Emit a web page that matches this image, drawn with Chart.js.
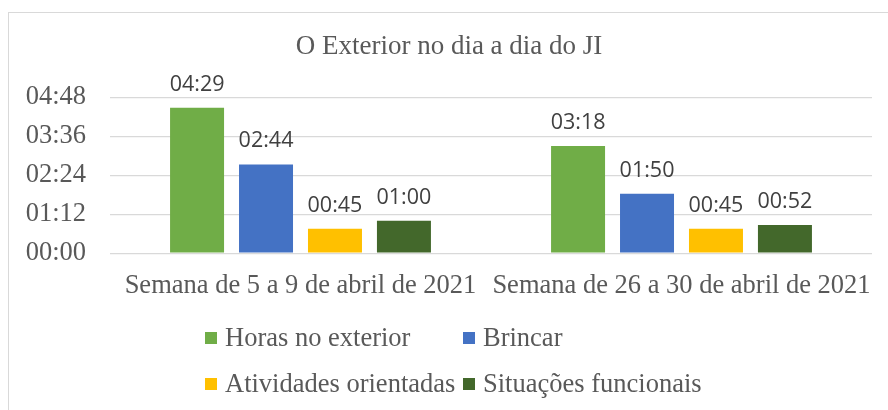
<!DOCTYPE html>
<html lang="pt">
<head>
<meta charset="UTF-8">
<title>O Exterior no dia a dia do JI</title>
<script src="https://cdn.jsdelivr.net/npm/chart.js"></script>
<style>
    html, body { margin: 0; padding: 0; background: #fff; }
    .chart-box { position: relative; width: 888px; height: 410px; overflow: hidden; }
    .chart-frame { position: absolute; left: 8px; top: 12px; width: 900px; height: 420px; border: 1.5px solid #d9d9d9; box-sizing: border-box; }
    #exteriorChart { position: absolute; left: 0; top: 0; }
</style>
</head>
<body>
<div class="chart-box">
    <div class="chart-frame"></div>
    <canvas id="exteriorChart" width="888" height="410"></canvas>
</div>
<script>
// categorias (semanas)
const weeks = ['Semana de 5 a 9 de abril de 2021', 'Semana de 26 a 30 de abril de 2021'];
const seriesNames = ['Horas no exterior', 'Brincar', 'Atividades orientadas', 'Situações funcionais'];
const seriesColors = ['#70ad47', '#4472c4', '#ffc000', '#43682b'];

// valores em minutos
const horasExterior = [269, 198];
const brincar = [164, 110];
const atividadesOrientadas = [45, 45];
const situacoesFuncionais = [60, 52];

// eixo Y: 00:00, 01:12, 02:24, 03:36, 04:48
const yTicks = [0, 72, 144, 216, 288];

const SERIF = '"Liberation Serif", "Times New Roman", serif';
const SANS = '"Open Sans", "Liberation Sans", sans-serif';

function formatTime(minutes) {
    const h = Math.floor(minutes / 60);
    const m = Math.round(minutes % 60);
    return String(h).padStart(2, '0') + ':' + String(m).padStart(2, '0');
}

// rótulos de valor por cima das barras
const valueLabels = {
    id: 'valueLabels',
    afterDatasetsDraw(chart) {
        const ctx = chart.ctx;
        ctx.save();
        ctx.font = '21.5px ' + SANS;
        ctx.fillStyle = '#404040';
        ctx.textAlign = 'center';
        ctx.textBaseline = 'alphabetic';
        chart.data.datasets.forEach((ds, i) => {
            chart.getDatasetMeta(i).data.forEach((bar, j) => {
                ctx.fillText(formatTime(ds.data[j]), bar.x, bar.y - 17);
            });
        });
        ctx.restore();
    }
};

// legenda em duas colunas
const gridLegend = {
    id: 'gridLegend',
    afterDraw(chart) {
        const ctx = chart.ctx;
        const cols = [205, 463];
        const rows = [338, 384];
        ctx.save();
        ctx.font = '26.5px ' + SERIF;
        ctx.textBaseline = 'middle';
        ctx.textAlign = 'left';
        chart.data.datasets.forEach((ds, i) => {
            const x = cols[i % 2];
            const y = rows[Math.floor(i / 2)];
            ctx.fillStyle = ds.backgroundColor;
            ctx.fillRect(x, y - 6, 12, 12);
            ctx.fillStyle = '#595959';
            ctx.fillText(ds.label, x + 20, y + 1);
        });
        ctx.restore();
    }
};

const chartPage = {
    chart: null,

    init() {
        const ctx = document.getElementById('exteriorChart').getContext('2d');
        const values = [horasExterior, brincar, atividadesOrientadas, situacoesFuncionais];

        this.chart = new Chart(ctx, {
            type: 'bar',
            data: {
                labels: weeks,
                datasets: seriesNames.map((name, i) => ({
                    label: name,
                    data: values[i],
                    backgroundColor: seriesColors[i],
                    categoryPercentage: 0.724,
                    barPercentage: 0.783
                }))
            },
            options: {
                responsive: false,
                animation: false,
                layout: {
                    padding: { top: 13, left: 26, right: 16, bottom: 91 }
                },
                plugins: {
                    legend: { display: false },
                    tooltip: { enabled: false },
                    title: {
                        display: true,
                        text: 'O Exterior no dia a dia do JI',
                        color: '#595959',
                        font: { family: SERIF, size: 27, weight: 'normal' },
                        padding: { top: 18, bottom: 34 }
                    }
                },
                scales: {
                    x: {
                        grid: { display: false, drawTicks: false },
                        border: { display: false },
                        // os rótulos quase se tocam, não deixar o Chart.js encolher a área
                        afterFit(scale) {
                            scale.paddingLeft = 0;
                            scale.paddingRight = 0;
                        },
                        ticks: {
                            color: '#595959',
                            font: { family: SERIF, size: 26.5 },
                            padding: 17,
                            maxRotation: 0,
                            autoSkip: false
                        }
                    },
                    y: {
                        min: 0,
                        max: 288,
                        grid: { color: '#d9d9d9', lineWidth: 1.3, drawTicks: false },
                        border: { display: false },
                        afterBuildTicks(axis) {
                            axis.ticks = yTicks.map(v => ({ value: v }));
                        },
                        afterFit(scale) {
                            scale.width = 84;
                        },
                        ticks: {
                            color: '#595959',
                            font: { family: SERIF, size: 26.5 },
                            padding: 24,
                            autoSkip: false,
                            callback: (value) => formatTime(value)
                        }
                    }
                }
            },
            plugins: [valueLabels, gridLegend]
        });
    }
};

chartPage.init();
</script>
</body>
</html>
